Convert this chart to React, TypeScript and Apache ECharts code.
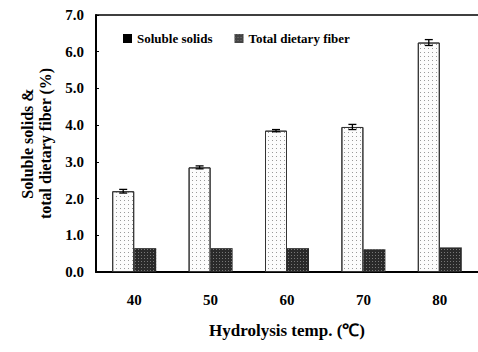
import React, { useEffect, useRef } from "react";
import * as echarts from "echarts";

const categories = ["40", "50", "60", "70", "80"];
const solubleSolids = [2.2, 2.85, 3.85, 3.95, 6.25];
const solubleErr = [0.05, 0.04, 0.03, 0.07, 0.08];
const dietaryFiber = [0.65, 0.65, 0.65, 0.62, 0.67];

const FONT = "Liberation Serif";
const BAR_W = 22;

export default function App() {
  const ref = useRef<HTMLDivElement>(null);
  useEffect(() => {
    if (!ref.current) return;
    const chart = echarts.init(ref.current, undefined, { renderer: "svg" });
    const errData = solubleSolids.map((v, i) => [i, v, solubleErr[i]]);
    chart.setOption({
      animation: false,
      backgroundColor: "#fff",
      textStyle: { fontFamily: FONT, fontWeight: "bold", color: "#000" },
      grid: { left: 96, top: 15, right: 0, bottom: 80 },
      legend: {
        left: 118,
        top: 27,
        itemGap: 22,
        itemWidth: 9,
        itemHeight: 9,
        icon: "rect",
        textStyle: { fontFamily: FONT, fontWeight: "bold", fontSize: 13, color: "#000" },
        data: [
          { name: "Soluble solids", itemStyle: { color: "#000", borderWidth: 0, decal: "none" } },
          { name: "Total dietary fiber", itemStyle: { color: "#444", borderWidth: 0 } },
        ],
      },
      xAxis: [
        {
          type: "category",
          data: categories,
          axisLine: { lineStyle: { color: "#000", width: 2 } },
          axisTick: { show: false },
          axisLabel: { margin: 20, fontSize: 15, fontWeight: "bold", fontFamily: FONT, color: "#000" },
          name: "Hydrolysis temp. (\u2103)",
          nameLocation: "middle",
          nameGap: 50,
          nameTextStyle: { fontSize: 17, fontWeight: "bold", fontFamily: FONT, color: "#000" },
        },
        {
          type: "category",
          data: categories,
          position: "top",
          axisLine: { lineStyle: { color: "#000", width: 1.5 } },
          axisTick: { show: false },
          axisLabel: { show: false },
        },
      ],
      yAxis: {
        type: "value",
        min: 0,
        max: 7,
        interval: 1,
        axisLine: { show: true, lineStyle: { color: "#000", width: 2 } },
        axisTick: { show: true, inside: true, length: 3, lineStyle: { color: "#000" } },
        splitLine: { show: false },
        axisLabel: {
          margin: 12,
          fontSize: 15,
          fontWeight: "bold",
          fontFamily: FONT,
          color: "#000",
          formatter: (v: number) => v.toFixed(1),
        },
        name: "Soluble solids &\ntotal dietary fiber (%)",
        nameLocation: "middle",
        nameGap: 40,
        nameTextStyle: { fontSize: 16, fontWeight: "bold", fontFamily: FONT, color: "#000", lineHeight: 18 },
      },
      series: [
        {
          name: "Soluble solids",
          type: "bar",
          data: solubleSolids,
          barWidth: BAR_W,
          barGap: "0%",
          itemStyle: {
            color: "#fcfcfc",
            borderColor: "#333",
            borderWidth: 1,
            decal: {
              symbol: "rect",
              symbolSize: 1,
              dashArrayX: [1, 3],
              dashArrayY: [1, 3],
              color: "#9a9a9a",
            },
          },
        },
        {
          name: "Total dietary fiber",
          type: "bar",
          data: dietaryFiber,
          barWidth: BAR_W,
          itemStyle: {
            color: "#2a2a2a",
            decal: {
              symbol: "rect",
              symbolSize: 1,
              dashArrayX: [1, 2],
              dashArrayY: [1, 2],
              color: "#777",
            },
          },
        },
        {
          type: "custom",
          data: errData,
          encode: { x: 0, y: 1 },
          z: 5,
          renderItem: (params: any, api: any) => {
            const i = api.value(0);
            const v = api.value(1);
            const e = api.value(2);
            const hi = api.coord([i, v + e]);
            const lo = api.coord([i, v - e]);
            const x = hi[0] - BAR_W / 2;
            const style = { stroke: "#000", lineWidth: 1.3 };
            return {
              type: "group",
              children: [
                { type: "line", shape: { x1: x, y1: hi[1], x2: x, y2: lo[1] }, style },
                { type: "line", shape: { x1: x - 4, y1: hi[1], x2: x + 4, y2: hi[1] }, style },
                { type: "line", shape: { x1: x - 4, y1: lo[1], x2: x + 4, y2: lo[1] }, style },
              ],
            };
          },
        },
      ],
    });
    return () => chart.dispose();
  }, []);
  return <div ref={ref} style={{ width: 478, height: 352, position: "absolute", left: 0, top: 0 }} />;
}
